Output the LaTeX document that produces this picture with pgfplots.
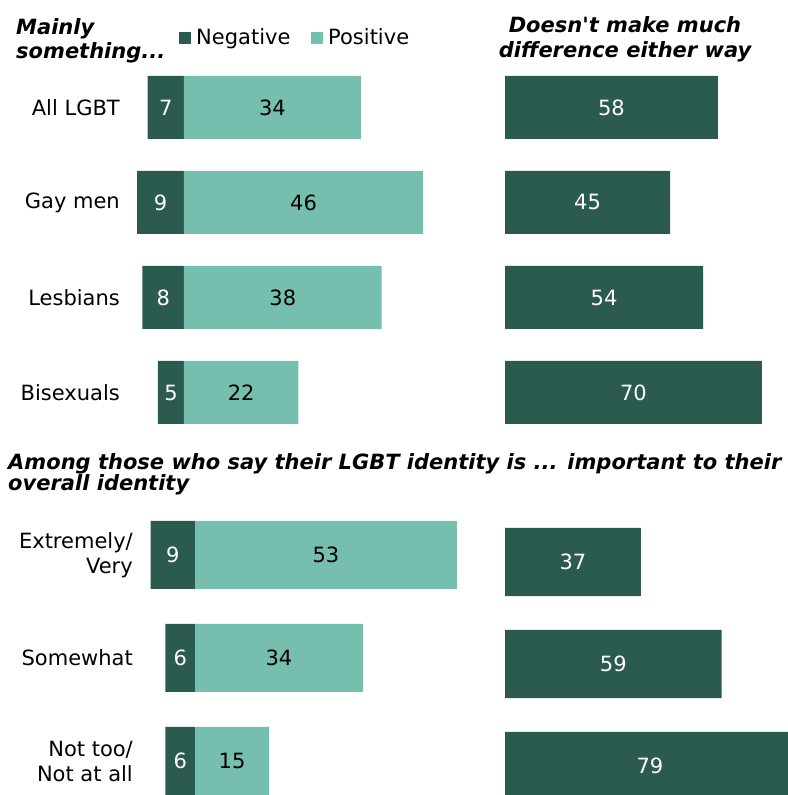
\documentclass[border=0pt]{standalone}
\usepackage{fontspec}
\setmainfont{DejaVu Sans}[Ligatures=TeXOff]
\usepackage{pgfplots}
\usepackage{pgfplotstable}
\pgfplotsset{compat=1.18}
\definecolor{dk}{HTML}{2B5A4E}
\definecolor{lt}{HTML}{76BFAE}

\pgfplotstableread{
y neg pos diff
3 7 34 58
2 9 46 45
1 8 38 54
0 5 22 70
}\topdata
\pgfplotstableread{
y neg pos diff
2 9 53 37
1 6 34 59
0 6 15 79
}\botdata

\newcommand\fs{\fontsize{21}{25}\selectfont}
\newcommand\ts{\fontsize{21}{25}\selectfont\bfseries\itshape}

\pgfplotsset{
  mybase/.style={scale only axis, clip=false, axis line style={draw=none},
    major tick style={draw=none}, major tick length=0pt, xtick=\empty, ytick=\empty,
    anchor=south west,
    yticklabel style={inner sep=0pt, font=\fs, align=right, anchor=east}},
  valnode/.style={draw=none, mark=none, nodes near coords, point meta=explicit symbolic,
    nodes near coords style={anchor=center, font=\fs, text=#1, inner sep=0pt}},
}

\begin{document}
\begin{tikzpicture}
\useasboundingbox (0,0) rectangle (787pt,795pt);
% top left
\begin{axis}[mybase, at={(132pt,355pt)}, width=312pt, height=380pt,
  xmin=-10, xmax=50, ymin=-0.5, ymax=3.5,
  ytick={0,1,2,3}, yticklabels={Bisexuals,Lesbians,Gay men,All LGBT},
  yticklabel style={xshift=-12pt}]
\addplot[xbar, bar width=63pt, bar shift=0pt, fill=dk, draw=none] table[x expr=-\thisrow{neg}, y=y]{\topdata};
\addplot[xbar, bar width=63pt, bar shift=0pt, fill=lt, draw=none] table[x=pos, y=y]{\topdata};
\addplot[valnode=white] table[x expr=-\thisrow{neg}/2, y=y, meta=neg]{\topdata};
\addplot[valnode=black] table[x expr=\thisrow{pos}/2, y=y, meta=pos]{\topdata};
\end{axis}
% top right
\begin{axis}[mybase, at={(505pt,355pt)}, width=293.6pt, height=380pt,
  xmin=0, xmax=80, ymin=-0.5, ymax=3.5]
\addplot[xbar, bar width=63pt, bar shift=0pt, fill=dk, draw=none] table[x=diff, y=y]{\topdata};
\addplot[valnode=white] table[x expr=\thisrow{diff}/2, y=y, meta=diff]{\topdata};
\end{axis}
% bottom left
\begin{axis}[mybase, at={(145.6pt,-17.5pt)}, width=345.8pt, height=309pt,
  xmin=-10, xmax=60, ymin=-0.5, ymax=2.5,
  ytick={0,1,2}, yticklabels={{Not too/\\Not at all},{Somewhat},{Extremely/\\Very}},
  yticklabel style={xshift=-12.6pt}]
\addplot[xbar, bar width=68pt, bar shift=0pt, fill=dk, draw=none] table[x expr=-\thisrow{neg}, y=y]{\botdata};
\addplot[xbar, bar width=68pt, bar shift=0pt, fill=lt, draw=none] table[x=pos, y=y]{\botdata};
\addplot[valnode=white] table[x expr=-\thisrow{neg}/2, y=y, meta=neg]{\botdata};
\addplot[valnode=black] table[x expr=\thisrow{pos}/2, y=y, meta=pos]{\botdata};
\end{axis}
% bottom right
\begin{axis}[mybase, at={(505pt,-22pt)}, width=293.6pt, height=306pt,
  xmin=0, xmax=80, ymin=-0.5, ymax=2.5]
\addplot[xbar, bar width=68pt, bar shift=0pt, fill=dk, draw=none] table[x=diff, y=y]{\botdata};
\addplot[valnode=white] table[x expr=\thisrow{diff}/2, y=y, meta=diff]{\botdata};
\end{axis}
% titles
\node[anchor=base west, inner sep=0pt, font=\ts] at (16pt,760pt) {Mainly};
\node[anchor=base west, inner sep=0pt, font=\ts] at (16pt,736pt) {something...};
\node[anchor=base, inner sep=0pt, font=\ts] at (625pt,762pt) {Doesn't make much};
\node[anchor=base, inner sep=0pt, font=\ts] at (625pt,737pt) {difference either way};
\node[anchor=base west, inner sep=0pt, font=\ts] at (8pt,325pt) {Among those who say their LGBT identity is ... important to their};
\node[anchor=base west, inner sep=0pt, font=\ts] at (8pt,304pt) {overall identity};
% legend
\fill[dk] (179pt,751pt) rectangle (191pt,763pt);
\node[anchor=base west, inner sep=0pt, font=\fs] at (196pt,750pt) {Negative};
\fill[lt] (311pt,751pt) rectangle (323pt,763pt);
\node[anchor=base west, inner sep=0pt, font=\fs] at (328pt,750pt) {Positive};
\end{tikzpicture}
\end{document}
